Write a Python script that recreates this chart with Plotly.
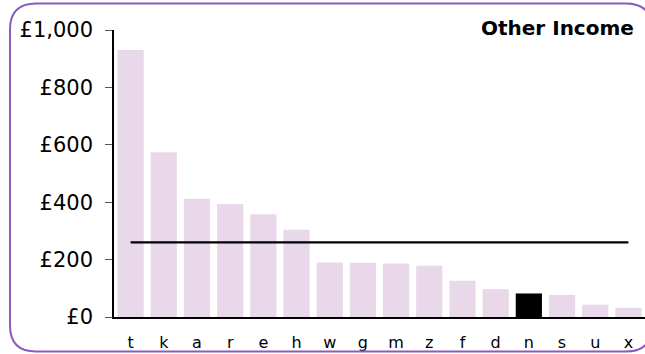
import plotly.graph_objects as go

# Other income per member, sorted high to low
categories = ["t", "k", "a", "r", "e", "h", "w", "g", "m", "z", "f", "d", "n", "s", "u", "x"]
values = [930, 574, 412, 394, 358, 304, 190, 189, 186, 179, 126, 97, 82, 77, 43, 32]
highlight = "n"
average = 260

y_tick_vals = [0, 200, 400, 600, 800, 1000]
y_tick_text = ["£0", "£200", "£400", "£600", "£800", "£1,000"]

W, H = 645, 354
ML, MR, MT, MB = 114, 0, 30, 37
PW, PH = W - ML - MR, H - MT - MB

bar_colors = ["#000000" if c == highlight else "#e9d8ea" for c in categories]

fig = go.Figure()
fig.add_trace(go.Bar(
    x=categories, y=values, marker=dict(color=bar_colors, line=dict(width=0)),
    hoverinfo="x+y",
))
fig.add_trace(go.Scatter(
    x=[categories[0], categories[-1]], y=[average, average],
    mode="lines", line=dict(color="#000000", width=2.2), hoverinfo="skip",
))


def px_to_paper(px, py):
    return (px - ML) / PW, (H - MB - py) / PH


# Rounded purple frame around the panel
left, right, top, bottom, r = 10, 652, 3.5, 351.5, 26
pts = [
    ("M", left + r, top), ("L", right - r, top), ("Q", right, top, right, top + r),
    ("L", right, bottom - r), ("Q", right, bottom, right - r, bottom),
    ("L", left + r, bottom), ("Q", left, bottom, left, bottom - r),
    ("L", left, top + r), ("Q", left, top, left + r, top),
]
path = ""
for p in pts:
    cmd, coords = p[0], p[1:]
    parts = []
    for i in range(0, len(coords), 2):
        xx, yy = px_to_paper(coords[i], coords[i + 1])
        parts.append(f"{xx:.5f},{yy:.5f}")
    path += cmd + " " + " ".join(parts) + " "
path += "Z"

fig.add_shape(type="path", path=path, xref="paper", yref="paper",
              line=dict(color="#8c5bbf", width=2), layer="above")

tx, ty = px_to_paper(636, 28)
fig.add_annotation(text="<b>Other Income</b>", x=tx, y=ty, xref="paper", yref="paper",
                   xanchor="right", yanchor="middle", showarrow=False,
                   font=dict(family="DejaVu Sans", size=20, color="#000000"))

fig.update_layout(
    width=W, height=H,
    margin=dict(l=ML, r=MR, t=MT, b=MB),
    paper_bgcolor="white", plot_bgcolor="white",
    showlegend=False, bargap=0.21,
    font=dict(family="DejaVu Sans", color="#000000"),
)
fig.update_xaxes(
    showline=True, linecolor="#000000", linewidth=1.5, ticks="",
    showgrid=False, tickfont=dict(size=16), ticklabelstandoff=10,
)
fig.update_yaxes(
    range=[0, 1000], tickvals=y_tick_vals, ticktext=y_tick_text,
    showline=True, linecolor="#000000", linewidth=1.5,
    ticks="outside", ticklen=7, tickcolor="#555555", tickwidth=1,
    showgrid=False, zeroline=False, tickfont=dict(size=21), ticklabelstandoff=8,
)

fig.write_html("out.html")
